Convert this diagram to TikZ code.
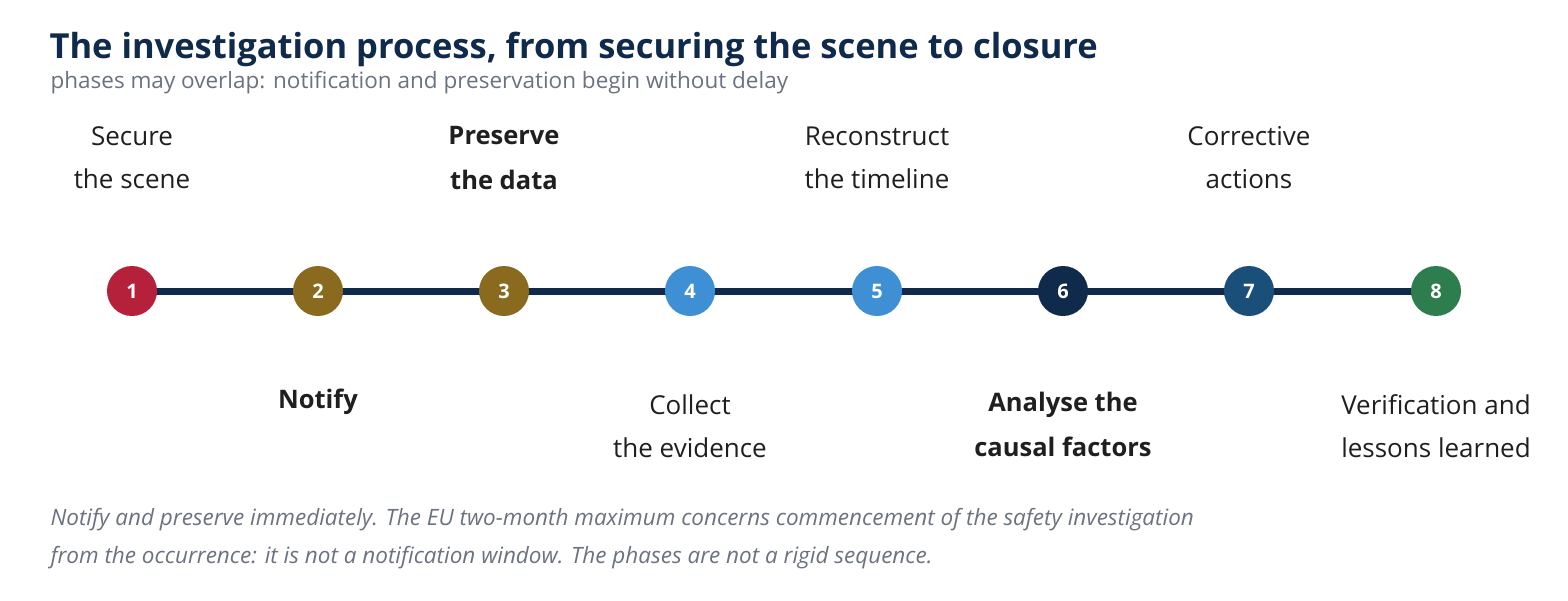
\documentclass[tikz,border=0pt]{standalone}
\usepackage{fontspec}
\setmainfont{Open Sans}
\usetikzlibrary{positioning}
\definecolor{navy}{HTML}{0F2A4A}
\definecolor{slate}{HTML}{6B7280}
\definecolor{redph}{HTML}{B5203A}
\definecolor{oliveph}{HTML}{8A6A1F}
\definecolor{blueph}{HTML}{3F8FD4}
\definecolor{deepph}{HTML}{1A4F7A}
\definecolor{greenph}{HTML}{2E7D4F}
\definecolor{ink}{HTML}{1F1F1F}
\tikzset{
  phase/.style={circle,minimum size=50pt,inner sep=0pt,text=white,font=\fontsize{20}{20}\selectfont\bfseries},
  phaselabel/.style={align=center,text=ink,font=\fontsize{26}{43}\selectfont},
  phasebold/.style={phaselabel,font=\fontsize{25.5}{45}\selectfont\bfseries}
}
\begin{document}
\begin{tikzpicture}[x=1pt,y=-1pt]
  \useasboundingbox[fill=white] (0,0) rectangle (1568,600);
  \node[anchor=base west,text=navy,font=\fontsize{34.5}{36}\selectfont\bfseries] (title) at (46,58) {The investigation process, from securing the scene to closure};
  \node[anchor=base west,text=slate,font=\fontsize{22.5}{24}\selectfont] (sub) at (47,88) {phases may overlap: notification and preservation begin without delay};
  % timeline
  \coordinate (s) at (132,291);
  \coordinate (e) at (1436,291);
  \draw[navy,line width=7pt] (s) -- (e);
  \node[phase,fill=redph] (p1) at (132,291) {1};
  \node[phase,fill=oliveph] (p2) at (318,291) {2};
  \node[phase,fill=oliveph] (p3) at (504,291) {3};
  \node[phase,fill=blueph] (p4) at (690,291) {4};
  \node[phase,fill=blueph] (p5) at (877,291) {5};
  \node[phase,fill=navy] (p6) at (1063,291) {6};
  \node[phase,fill=deepph] (p7) at (1249,291) {7};
  \node[phase,fill=greenph] (p8) at (1436,291) {8};
  % labels
  \node[phaselabel] (l1) at (132,158) {Secure\\the scene};
  \node[phasebold] (l3) at (504,158) {Preserve\\the data};
  \node[phaselabel] (l5) at (877,158) {Reconstruct\\the timeline};
  \node[phaselabel] (l7) at (1249,158) {Corrective\\actions};
  \node[phasebold] (l2) at (318,402) {Notify};
  \node[phaselabel] (l4) at (690,426) {Collect\\the evidence};
  \node[phasebold] (l6) at (1063,424) {Analyse the\\causal factors};
  \node[phaselabel] (l8) at (1436,426) {Verification and\\lessons learned};
  % note
  \node[anchor=base west,text=slate,font=\fontsize{22.5}{38}\selectfont\itshape,align=left] (note) at (47,563) {Notify and preserve immediately. The EU two-month maximum concerns commencement of the safety investigation\\from the occurrence: it is not a notification window. The phases are not a rigid sequence.};
\end{tikzpicture}
\end{document}
